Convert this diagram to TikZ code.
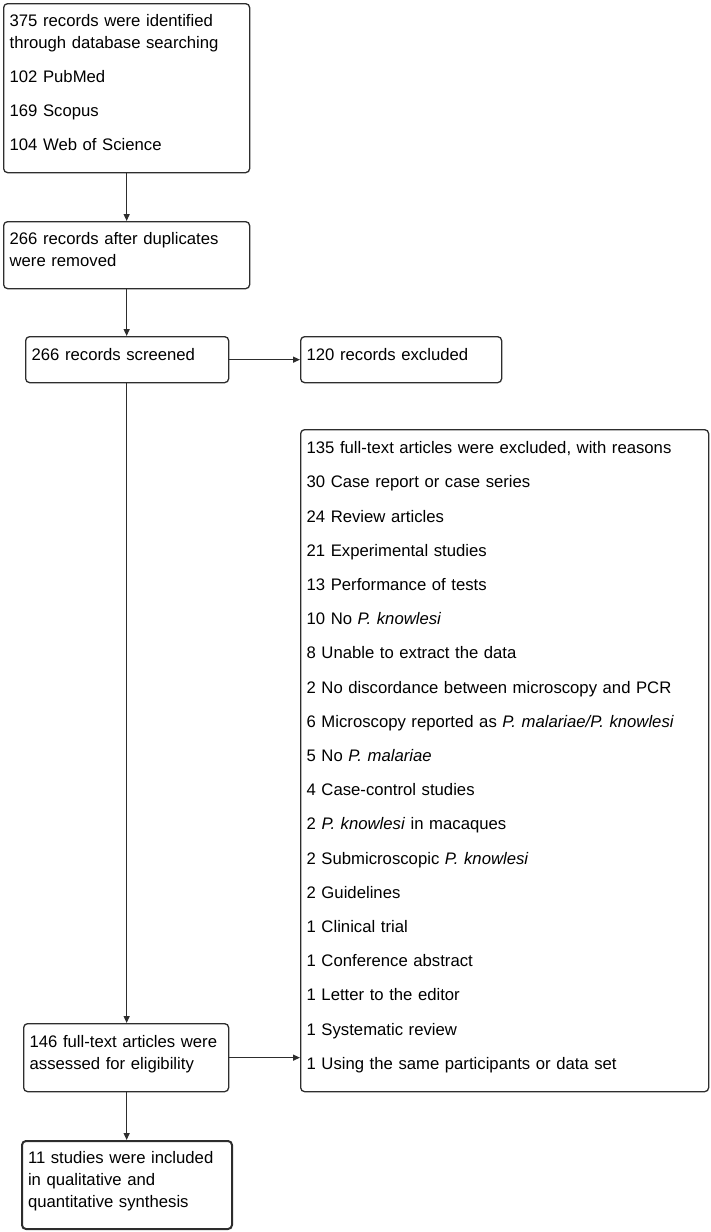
\documentclass[tikz,border=0pt]{standalone}
\usepackage{fontspec}
\setmainfont{Liberation Sans}
\usepackage{tikz}
\usetikzlibrary{arrows.meta, positioning, calc}

\definecolor{boxline}{RGB}{45, 45, 45}

\begin{document}
\begin{tikzpicture}[x=1pt, y=-1pt,
  box/.style={draw=boxline, line width=1.3pt, rounded corners=4pt, anchor=north west, align=left, inner xsep=6pt, inner ysep=0pt, font=\fontsize{16.7}{22}\selectfont},
  arr/.style={-{Triangle[length=7pt, width=6pt]}, line width=1.3pt, boxline},
]
  \useasboundingbox (0,0) rectangle (710,1232);

  % Identification
  \node[box, text width=234pt, text height=23pt, text depth=146pt] (ident) at (3,3)
    {375 records were identified\\through database searching\\[12pt]102 PubMed\\[12pt]169 Scopus\\[12pt]104 Web of Science};
  \node[box, text width=234pt, text height=23pt, text depth=44pt] (dupl) at (3,221)
    {266 records after duplicates\\were removed};

  % Screening
  \node[box, text width=191pt, text height=24pt, text depth=22pt] (screen) at (25,336) {266 records screened};
  \node[box, text width=189pt, text height=24pt, text depth=22pt] (excl) at (300,336) {120 records excluded};

  % Eligibility
  \node[box, text width=396pt, text height=24pt, text depth=638pt, font=\fontsize{16.7}{34.2}\selectfont] (reasons) at (300,429)
    {135 full-text articles were excluded, with reasons\\
     30 Case report or case series\\
     24 Review articles\\
     21 Experimental studies\\
     13 Performance of tests\\
     10 No \textit{P. knowlesi}\\
     8 Unable to extract the data\\
     2 No discordance between microscopy and PCR\\
     6 Microscopy reported as \textit{P. malariae/P. knowlesi}\\
     5 No \textit{P. malariae}\\
     4 Case-control studies\\
     2 \textit{P. knowlesi} in macaques\\
     2 Submicroscopic \textit{P. knowlesi}\\
     2 Guidelines\\
     1 Clinical trial\\
     1 Conference abstract\\
     1 Letter to the editor\\
     1 Systematic review\\
     1 Using the same participants or data set};
  \node[box, text width=193pt, text height=24pt, text depth=44pt] (fulltext) at (23,1023)
    {146 full-text articles were\\assessed for eligibility};

  % Included
  \node[box, line width=2pt, text width=198pt, text height=22pt, text depth=66pt] (incl) at (21,1140)
    {11 studies were included\\in qualitative and\\quantitative synthesis};

  \draw[arr] (ident.south) -- (ident.south |- dupl.north);
  \draw[arr] (dupl.south) -- (dupl.south |- screen.north);
  \draw[arr] (screen) -- (excl);
  \draw[arr] (screen.south -| dupl.south) -- (dupl.south |- fulltext.north);
  \draw[arr] (fulltext.east) -- (fulltext.east -| reasons.west);
  \draw[arr] (fulltext.south -| dupl.south) -- (dupl.south |- incl.north);
\end{tikzpicture}
\end{document}
